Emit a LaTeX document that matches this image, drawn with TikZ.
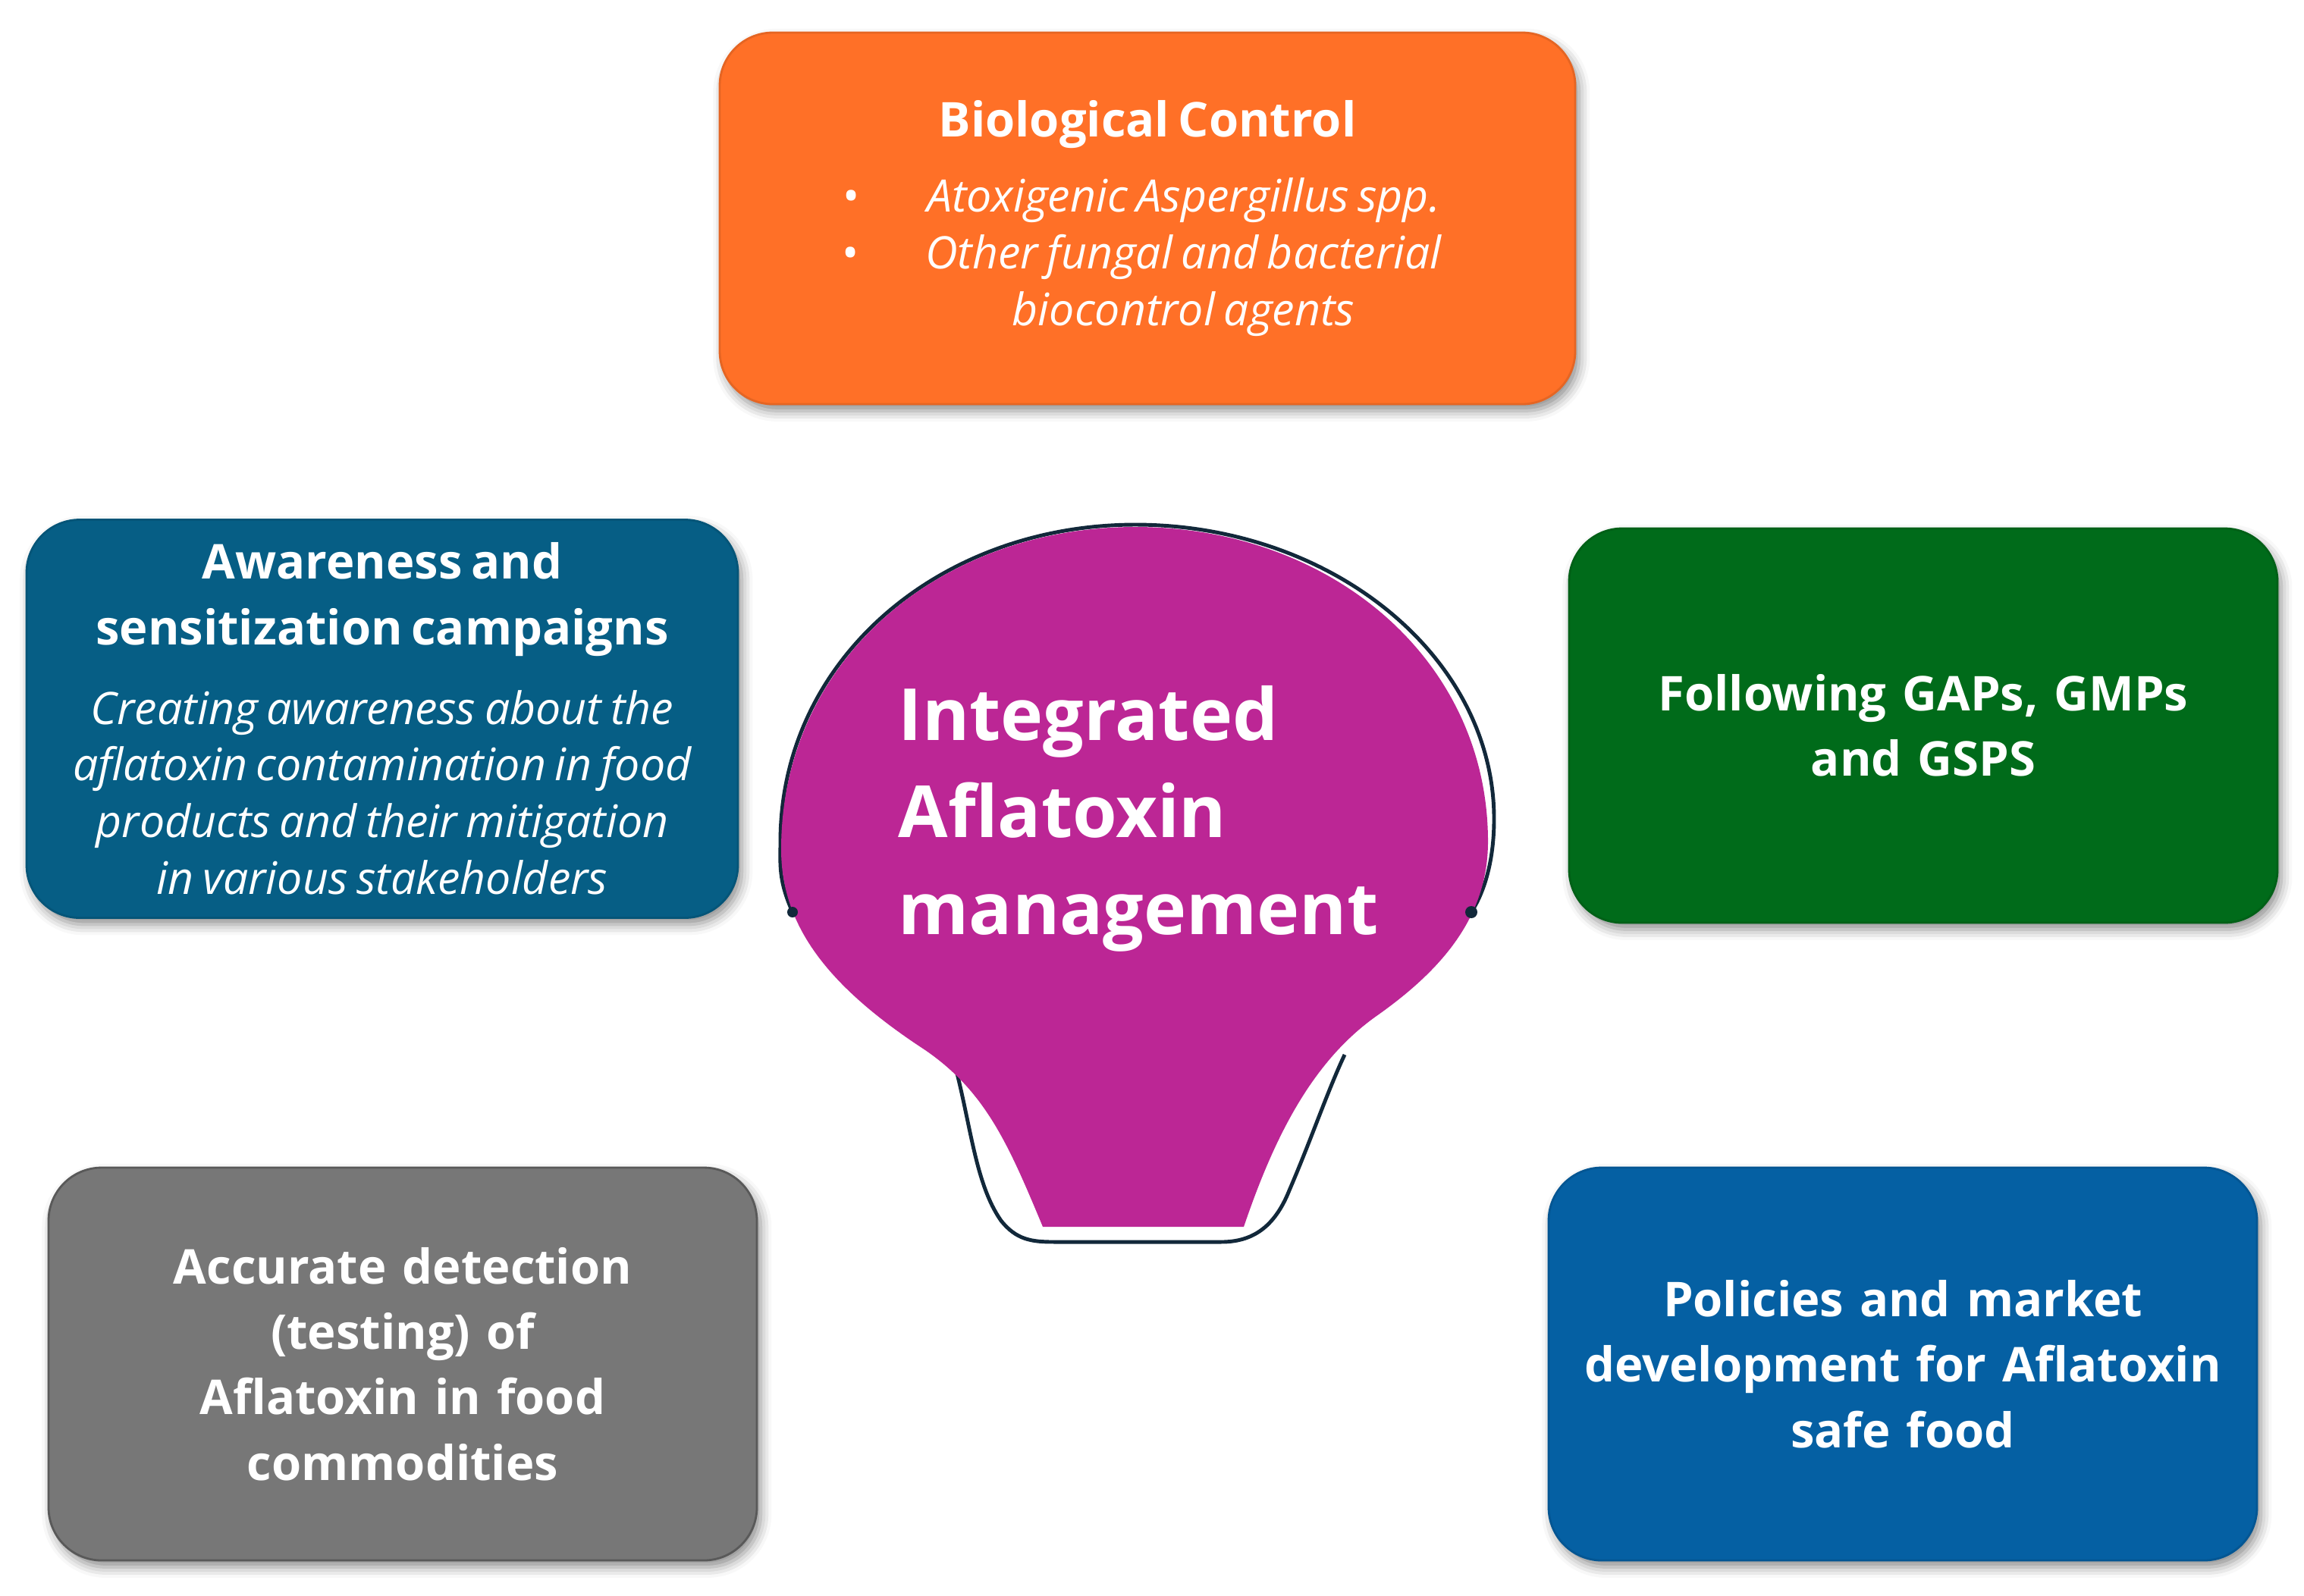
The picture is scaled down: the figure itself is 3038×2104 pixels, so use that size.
\documentclass[tikz,border=0pt]{standalone}
\usepackage{fontspec}
\setmainfont{Open Sans}
\usepackage{tikz}
\usetikzlibrary{shadows.blur}
\definecolor{AflaOrange}{HTML}{FF7027}
\definecolor{AflaTeal}{HTML}{065E85}
\definecolor{AflaGreen}{HTML}{006B1A}
\definecolor{AflaGray}{HTML}{777777}
\definecolor{AflaBlue}{HTML}{0560A3}
\definecolor{AflaMagenta}{HTML}{BC2695}
\definecolor{BulbEdge}{HTML}{12283A}
\newcommand{\boxhead}{\fontsize{18}{24.6}\selectfont\bfseries}
\newcommand{\boxbody}{\fontsize{16.8}{21.3}\selectfont\mdseries\itshape}
\newcommand{\bulleted}{\hspace*{27pt}\llap{{\upshape\textbullet}\hspace{25pt}}}

\begin{document}
\begin{tikzpicture}[x=0.1mm, y=-0.1mm,
  infobox/.style={rectangle, rounded corners=7mm, inner sep=0pt, align=center,
    text=white, line width=0.8pt,
    blur shadow={shadow xshift=1.5pt, shadow yshift=-2.5pt, shadow blur radius=4pt, shadow opacity=45}},
  bulbline/.style={draw=BulbEdge, line width=1.4pt}]
\useasboundingbox (0,0) rectangle (3038,2104);

% --- Outer boxes ---
\node[infobox, fill=AflaOrange, draw=AflaOrange!90!black, minimum width=112.8mm, minimum height=49mm,
  text width=108mm] (bio) at (1513,288)
  {{\boxhead Biological Control\par}\vspace{7pt}
   {\boxbody \bulleted Atoxigenic Aspergillus spp.\\
    \bulleted Other fungal and bacterial\\
    \hspace*{27pt}biocontrol agents\par}};
\node[infobox, fill=AflaTeal, draw=AflaTeal!90!black, minimum width=93.8mm, minimum height=52.5mm,
  text width=92mm] (aware) at (504,948)
  {{\boxhead Awareness and\\ sensitization campaigns\par}\vspace{8.5pt}
   {\boxbody Creating awareness about the\\ aflatoxin contamination in food\\
    products and their mitigation\\ in various stakeholders\par}};
\node[infobox, fill=AflaGreen, draw=AflaGreen!90!black, minimum width=93.4mm, minimum height=52mm,
  text width=90mm, font=\boxhead] (gaps) at (2536,957) {Following GAPs, GMPs\\ and GSPS};
\node[infobox, fill=AflaGray, draw=AflaGray!75!black, minimum width=93.4mm, minimum height=51.8mm,
  text width=90mm, font=\boxhead] (detect) at (531,1799)
  {Accurate detection\\ (testing) of\\ Aflatoxin in food\\ commodities};
\node[infobox, fill=AflaBlue, draw=AflaBlue!90!black, minimum width=93.4mm, minimum height=51.8mm,
  text width=90mm, font=\boxhead] (policy) at (2509,1799)
  {Policies and market\\ development for Aflatoxin\\ safe food};

% --- Central bulb ---
\coordinate (ldot) at (1045,1203);
\coordinate (rdot) at (1940,1203);
\draw[bulbline] (ldot) .. controls (1026,1160) and (1029,1140) .. (1029,1110)
  .. controls (1029,870) and (1239,692) .. (1497,692)
  .. controls (1756,692) and (1970,866) .. (1970,1080)
  .. controls (1970,1140) and (1955,1180) .. (rdot);
\draw[bulbline] (1257,1397) .. controls (1280,1480) and (1285,1560) .. (1320,1610)
  .. controls (1340,1635) and (1360,1638) .. (1390,1638) -- (1610,1638)
  .. controls (1650,1638) and (1680,1620) .. (1700,1570)
  .. controls (1730,1500) and (1750,1440) .. (1773,1391);
\fill[AflaMagenta] (1375,1618) .. controls (1330,1510) and (1300,1440) .. (1220,1385)
  .. controls (1090,1300) and (1030,1220) .. (1030,1120)
  .. controls (1030,870) and (1240,695) .. (1497,695)
  .. controls (1755,695) and (1962,870) .. (1962,1110)
  .. controls (1962,1210) and (1900,1280) .. (1815,1340)
  .. controls (1730,1400) and (1680,1500) .. (1640,1618) -- cycle;
\fill[BulbEdge] (ldot) circle[radius=0.7mm];
\fill[BulbEdge] (rdot) circle[radius=0.8mm];
\node[anchor=west, inner sep=0pt, align=left, text=white,
  font=\fontsize{27}{36.5}\selectfont\bfseries] (core) at (1184,1080)
  {Integrated\\ Aflatoxin\\ management};
\end{tikzpicture}
\end{document}
